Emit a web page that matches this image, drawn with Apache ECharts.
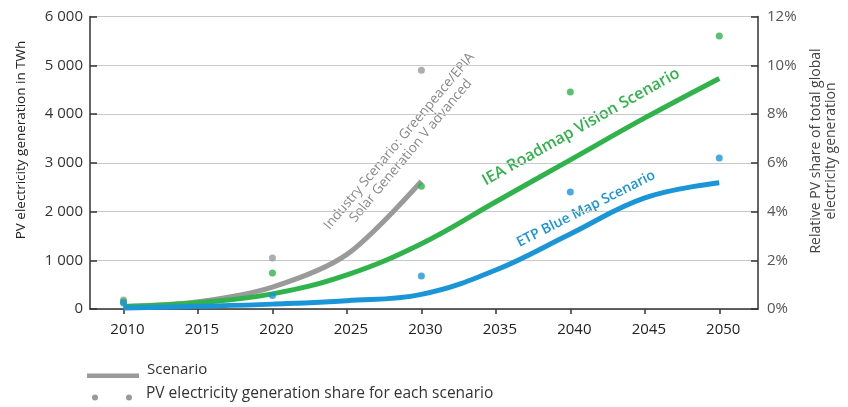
<!DOCTYPE html>
<html><head><meta charset="utf-8">
<script src="https://cdn.jsdelivr.net/npm/echarts@6/dist/echarts.min.js"></script>
<style>html,body{margin:0;padding:0;background:#fff}#c{width:848px;height:407px}</style>
</head><body><div id="c"></div>
<script>
const years = [2010, 2015, 2020, 2025, 2030, 2035, 2040, 2045, 2050];
const shareYears = [2010, 2020, 2030, 2040, 2050];
const xTicks = [2010, 2015, 2020, 2025, 2030, 2035, 2040, 2045, 2050];
// Scenario lines, TWh
const industryTWh = [50, 150, 450, 1120, 2620];
const ieaTWh = [50, 130, 310, 700, 1340, 2200, 3060, 3920, 4730];
const etpTWh = [20, 55, 100, 170, 300, 800, 1540, 2280, 2590];
// Share dots, %
const industryShare = [0.37, 2.09, 9.8];
const ieaShare = [0.3, 1.48, 5.04, 8.9, 11.2];
const etpShare = [0.25, 0.55, 1.35, 4.8, 6.2];
// Texts
const leftTitle = 'PV electricity generation in TWh';
const rightTitle = 'Relative PV share of total global\nelectricity generation';
const industryLabel = 'Industry Scenario: Greenpeace/EPIA\nSolar Generation V advanced';
const ieaLabel = 'IEA Roadmap Vision Scenario';
const etpLabel = 'ETP Blue Map Scenario';
const legendLine = 'Scenario';
const legendDots = 'PV electricity generation share for each scenario';

const GREY = '#9a9a9a', GREEN = '#2fb34a', BLUE = '#1a95d8';
const FONT = 'Open Sans';
const pair = (xs, ys) => ys.map((v, i) => [xs[i], v]);

const chart = echarts.init(document.getElementById('c'));
const lineS = (name, xs, ys, color, sm) => ({
  type: 'line', name, data: pair(xs, ys), yAxisIndex: 0, smooth: sm,
  symbol: 'none', lineStyle: { color, width: 5 }, z: 3
});
const dotS = (name, xs, ys, color) => ({
  type: 'scatter', name, data: pair(xs, ys), yAxisIndex: 1,
  symbolSize: 7, itemStyle: { color }, z: 4
});
chart.setOption({
  animation: false,
  textStyle: { fontFamily: FONT },
  grid: { left: 90, right: 90, top: 16.5, bottom: 98 },
  xAxis: {
    type: 'value', min: 2007.75, max: 2052.6,
    axisLine: { lineStyle: { color: '#333', width: 1.5 } },
    axisTick: { customValues: xTicks, length: 5, lineStyle: { color: '#333', width: 1.5 } },
    axisLabel: { customValues: xTicks, color: '#222', fontSize: 15, margin: 13, fontFamily: FONT,
      padding: [0, 0, 0, 8], formatter: v => String(v) },
    splitLine: { show: false }
  },
  yAxis: [{
    type: 'value', min: 0, max: 6000, interval: 1000,
    axisLine: { show: true, lineStyle: { color: '#333', width: 1.5 } },
    axisTick: { show: true, inside: true, length: 7, lineStyle: { color: '#333', width: 1.5 } },
    axisLabel: { color: '#333', fontSize: 15, margin: 7, fontFamily: FONT,
      formatter: v => v >= 1000 ? Math.floor(v / 1000) + ' ' + String(v % 1000).padStart(3, '0') : String(v) },
    splitLine: { show: true, lineStyle: { color: '#c8c8c8', width: 1.2 } }
  }, {
    type: 'value', min: 0, max: 12, interval: 2, position: 'right',
    axisLine: { show: true, lineStyle: { color: '#333', width: 1.5 } },
    axisTick: { show: true, inside: true, length: 7, lineStyle: { color: '#333', width: 1.5 } },
    axisLabel: { color: '#555', fontSize: 15, margin: 9, formatter: '{value}%', fontFamily: FONT },
    splitLine: { show: false }
  }],
  series: [
    lineS('Industry', years.slice(0, 5), industryTWh, GREY, 0.3),
    lineS('IEA', years, ieaTWh, GREEN, 0.4),
    lineS('ETP', years, etpTWh, BLUE, 0.4),
    dotS('Industry share', shareYears.slice(0, 3), industryShare, GREY),
    dotS('IEA share', shareYears, ieaShare, GREEN),
    dotS('ETP share', shareYears, etpShare, BLUE)
  ],
  graphic: [
    { type: 'text', x: 21, y: 140, rotation: Math.PI / 2,
      style: { text: leftTitle, fill: '#222', font: '13.5px "Open Sans"', align: 'center', verticalAlign: 'middle' } },
    { type: 'text', x: 824, y: 151, rotation: Math.PI / 2,
      style: { text: rightTitle, fill: '#444', font: '14px "Open Sans"', align: 'center', verticalAlign: 'middle', lineHeight: 15 } },
    { type: 'text', x: 405, y: 146, rotation: 50 * Math.PI / 180,
      style: { text: industryLabel, fill: '#888',
        font: '13.5px "Open Sans"', align: 'center', verticalAlign: 'middle', lineHeight: 15 } },
    { type: 'text', x: 581, y: 127, rotation: 29.3 * Math.PI / 180,
      style: { text: ieaLabel, fill: GREEN,
        font: '600 16px "Open Sans"', align: 'center', verticalAlign: 'middle' } },
    { type: 'text', x: 586, y: 209, rotation: 26.8 * Math.PI / 180,
      style: { text: etpLabel, fill: BLUE,
        font: '600 14px "Open Sans"', align: 'center', verticalAlign: 'middle' } },
    { type: 'rect', shape: { x: 87, y: 373.5, width: 52, height: 4.5 }, style: { fill: GREY } },
    { type: 'text', x: 147, y: 370, style: { text: legendLine, fill: '#333', font: '15px "Open Sans"', verticalAlign: 'middle' } },
    { type: 'circle', shape: { cx: 95, cy: 397.5, r: 3 }, style: { fill: GREY } },
    { type: 'circle', shape: { cx: 129, cy: 397.5, r: 3 }, style: { fill: GREY } },
    { type: 'text', x: 146, y: 393.5, style: { text: legendDots, fill: '#333', font: '15.5px "Open Sans"', verticalAlign: 'middle' } }
  ]
});
</script></body></html>
